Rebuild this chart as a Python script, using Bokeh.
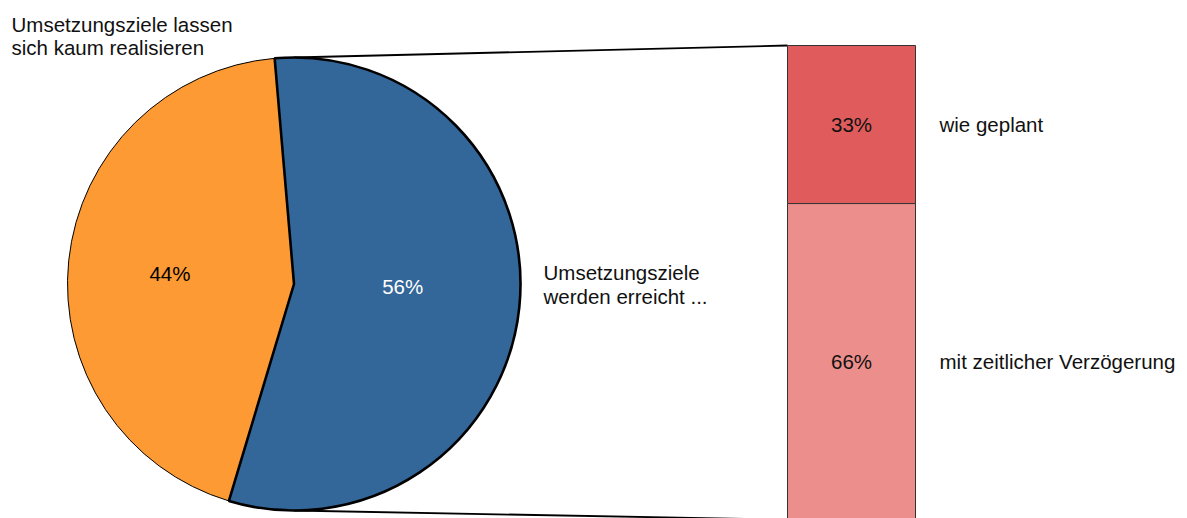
import math
from bokeh.plotting import figure
from bokeh.models import Range1d
from bokeh.core.properties import value
from bokeh.embed import file_html
from bokeh.resources import INLINE

# ---------------- data ----------------
pie_labels = ["Umsetzungsziele\nwerden erreicht ...", "Umsetzungsziele lassen\nsich kaum realisieren"]
pie_values = [56, 44]
pie_colors = ["#336699", "#fd9a33"]
bar_labels = ["wie geplant", "mit zeitlicher Verzögerung"]
bar_values = [33, 66]
bar_colors = ["#e05c5c", "#ec8e8b"]

# ---------------- layout (screen pixels of the page) ----------------
W, H = 1187, 518
def sx(x):
    return x
def sy(y):
    return H - y

FONT = value("Liberation Sans")
FS = "20.5px"
CX, CY, R = 293.5, 283.5, 226.5
START = 94.9                      # degrees, start of first slice
LABEL_R = [0.48, 0.55]
LABEL_DA = [4.4, 0.9]
NAME_POS = [(543, 271.5, 24.5), (11, 24.0, 22.5)]   # left, first line middle, line step
BAR_X0, BAR_X1, BAR_TOP = 787, 915, 45
PX_PER_PCT = 4.79
BAR_LABEL_X = 939

p = figure(width=W, height=H, output_backend="svg", toolbar_location=None,
           x_range=Range1d(0, W), y_range=Range1d(0, H), min_border=0,
           background_fill_color="white", border_fill_color="white")
p.axis.visible = False
p.grid.visible = False
p.outline_line_color = None

# bar geometry from data
tops, bottoms = [], []
y = BAR_TOP
for v in bar_values:
    tops.append(y)
    y = y + v * PX_PER_PCT
    bottoms.append(y)
bar_bottom = bottoms[-1]

# connector lines
p.line([sx(CX), sx(BAR_X0)], [sy(CY - R), sy(BAR_TOP)], line_color="black", line_width=1.8)
p.line([sx(CX), sx(BAR_X0)], [sy(CY + R), sy(bar_bottom)], line_color="black", line_width=1.8)

# pie
total = float(sum(pie_values))
angles = []
a = START
for v in pie_values:
    a1 = a - v / total * 360.0
    angles.append((a, a1))
    a = a1

widths = [2.6, 1.0]
for i in reversed(range(len(pie_values))):
    a0, a1 = angles[i]
    p.wedge(x=sx(CX), y=sy(CY), radius=R, radius_units="screen",
            start_angle=math.radians(a0), end_angle=math.radians(a1), direction="clock",
            fill_color=pie_colors[i], line_color="black", line_width=widths[i])

label_colors = ["white", "black"]
for i, v in enumerate(pie_values):
    a0, a1 = angles[i]
    mid = math.radians((a0 + a1) / 2 + LABEL_DA[i])
    lx = CX + LABEL_R[i] * R * math.cos(mid)
    ly = CY - LABEL_R[i] * R * math.sin(mid)
    p.text(x=[sx(lx)], y=[sy(ly)], text=[f"{v}%"], text_font=FONT, text_font_size=FS,
           text_color=label_colors[i], text_align="center", text_baseline="middle")
    nx, ny, step = NAME_POS[i]
    for k, line in enumerate(pie_labels[i].split("\n")):
        p.text(x=[sx(nx)], y=[sy(ny + k * step)], text=[line], text_font=FONT, text_font_size=FS,
               text_color="#111111", text_align="left", text_baseline="middle")

# bar
p.quad(left=[sx(BAR_X0)] * len(bar_values), right=[sx(BAR_X1)] * len(bar_values),
       top=[sy(t) for t in tops], bottom=[sy(b) for b in bottoms],
       fill_color=bar_colors, line_color="#333333", line_width=1)
for i, v in enumerate(bar_values):
    cy = (tops[i] + bottoms[i]) / 2
    p.text(x=[sx((BAR_X0 + BAR_X1) / 2)], y=[sy(cy)], text=[f"{v}%"], text_font=FONT,
           text_font_size=FS, text_color="#111111", text_align="center", text_baseline="middle")
    p.text(x=[sx(BAR_LABEL_X)], y=[sy(cy)], text=[bar_labels[i]], text_font=FONT,
           text_font_size=FS, text_color="#111111", text_align="left", text_baseline="middle")

open("out.html", "w").write(file_html(p, INLINE))
